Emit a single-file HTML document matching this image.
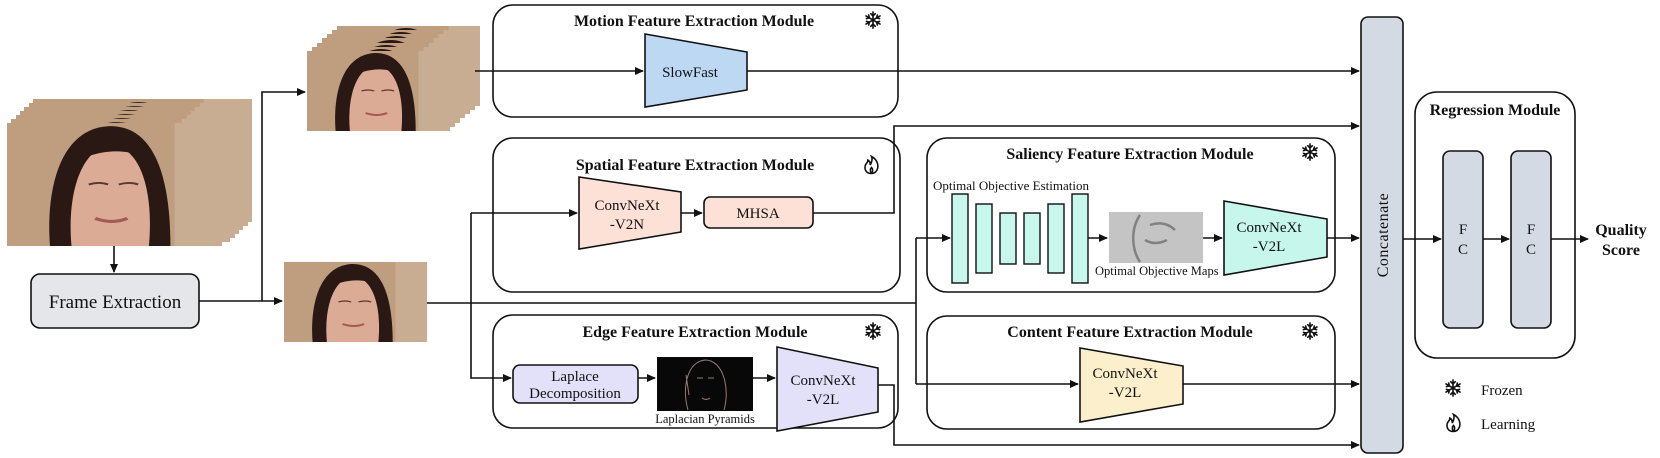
<!DOCTYPE html>
<html><head><meta charset="utf-8"><style>
html,body{margin:0;padding:0;background:#fff}
svg{display:block}
text{font-family:"Liberation Serif",serif;fill:#111}
.t{font-weight:bold;font-size:16px;text-anchor:middle}
.m{font-size:15px;text-anchor:middle}
.s{font-size:12.5px}
.ln{stroke:#111;stroke-width:1.6;fill:none}
.box{stroke:#111;stroke-width:1.6;fill:none}
</style></head><body>
<svg width="1660" height="458" viewBox="0 0 1660 458" xmlns="http://www.w3.org/2000/svg">
<defs>
<marker id="a" markerWidth="10" markerHeight="10" refX="8" refY="4" orient="auto" markerUnits="userSpaceOnUse"><path d="M0,0 L9,4 L0,8 z" fill="#111"/></marker>
<symbol id="face" viewBox="0 0 100 80" preserveAspectRatio="none">
<rect width="100" height="80" fill="#bf9e80"/>
<rect x="78" width="22" height="80" fill="#c9ad92"/>
<path d="M20,80 C18,45 24,3 48,2 C70,2 76,40 76,80 z" fill="#2a1814"/>
<path d="M30,80 C28,50 33,18 48,14 C64,16 68,50 66,80 z" fill="#dcab95"/>
<path d="M30,28 C36,10 58,8 66,24 C58,16 40,16 30,28z" fill="#2a1814"/>
<path d="M41,62 Q49,66 56,62" stroke="#a55a55" stroke-width="2" fill="none"/>
<path d="M38,40 q5,-2 9,0 M52,40 q5,-2 9,0" stroke="#5a3a30" stroke-width="1.2" fill="none"/>
</symbol>
<symbol id="snow" viewBox="-10 -10 20 20">
<g stroke="#111" stroke-width="1.8" fill="none" stroke-linecap="round">
<path d="M0,-9V9M-7.8,-4.5L7.8,4.5M-7.8,4.5L7.8,-4.5"/>
<path d="M-2.5,-7L0,-4.5L2.5,-7M-2.5,7L0,4.5L2.5,7M-7.3,-1.5L-4,-2.3L-4.8,-5.5M7.3,1.5L4,2.3L4.8,5.5M-7.3,1.5L-4,2.3L-4.8,5.5M7.3,-1.5L4,-2.3L4.8,-5.5"/>
</g></symbol>
<symbol id="fire" viewBox="0 0 14 16">
<path d="M7,15 C2,15 1,11 2,8 C3,6 4,6 4,4 C6,5 6,7 6,8 C7,6 8,3 7,1 C11,3 13,7 12,11 C11,14 9,15 7,15 z M7,15 C5.5,13 6,11 7,10 C8,11 8.5,13 7,15" stroke="#111" stroke-width="1.3" fill="none"/>
</symbol>
</defs>

<!-- big stack -->
<g>
<use href="#face" x="33" y="99" width="219" height="123"/>
<use href="#face" x="29" y="103" width="219" height="123"/>
<use href="#face" x="24" y="107" width="219" height="123"/>
<use href="#face" x="20" y="111" width="219" height="123"/>
<use href="#face" x="16" y="115" width="219" height="123"/>
<use href="#face" x="11" y="119" width="219" height="123"/>
<use href="#face" x="7" y="123" width="215" height="123"/>
</g>
<line class="ln" x1="114" y1="246" x2="114" y2="272" marker-end="url(#a)"/>
<rect x="31" y="274" width="168" height="54" rx="9" fill="#e5e6ea" stroke="#111" stroke-width="1.6"/>
<text x="115" y="308" style="font-size:19px;text-anchor:middle">Frame Extraction</text>

<!-- top stack -->
<g>
<use href="#face" x="337" y="26" width="143" height="80"/>
<use href="#face" x="332" y="30" width="143" height="80"/>
<use href="#face" x="327" y="34" width="143" height="80"/>
<use href="#face" x="322" y="38" width="143" height="80"/>
<use href="#face" x="317" y="43" width="143" height="80"/>
<use href="#face" x="312" y="47" width="143" height="80"/>
<use href="#face" x="307" y="51" width="143" height="80"/>
</g>
<use href="#face" x="284" y="262" width="143" height="80"/>

<path class="ln" d="M199,301 H282" marker-end="url(#a)"/>
<path class="ln" d="M262,301 V92 H305" marker-end="url(#a)"/>

<!-- motion -->
<rect class="box" x="493" y="5" width="405" height="112" rx="20"/>
<text class="t" x="694" y="26">Motion Feature Extraction Module</text>
<use href="#snow" x="864" y="11" width="18" height="18"/>
<polygon points="645,34 747,52 747,90 645,107" fill="#bcd8f3" stroke="#111" stroke-width="1.6"/>
<text class="m" x="690" y="77">SlowFast</text>
<path class="ln" d="M475,71 H643" marker-end="url(#a)"/>
<path class="ln" d="M747,71 H1359" marker-end="url(#a)"/>

<!-- spatial -->
<rect class="box" x="493" y="138" width="407" height="154" rx="20"/>
<text class="t" x="695" y="170">Spatial Feature Extraction Module</text>
<use href="#fire" x="863" y="155" width="17" height="20"/>
<polygon points="579,177 681,192 681,232 579,249" fill="#fde0d6" stroke="#111" stroke-width="1.6"/>
<text class="m" x="627" y="210">ConvNeXt</text>
<text class="m" x="627" y="229">-V2N</text>
<rect x="704" y="197" width="109" height="31" rx="6" fill="#fde0d6" stroke="#111" stroke-width="1.6"/>
<text class="m" x="758" y="218">MHSA</text>
<path class="ln" d="M681,213 H702" marker-end="url(#a)"/>
<path class="ln" d="M813,213 H894 V126 H1359" marker-end="url(#a)"/>
<path class="ln" d="M471,213 H577" marker-end="url(#a)"/>
<path class="ln" d="M471,213 V378 H511" marker-end="url(#a)"/>

<!-- main line -->
<path class="ln" d="M427,303 H916"/>
<path class="ln" d="M916,238 V384"/>
<path class="ln" d="M916,238 H950" marker-end="url(#a)"/>
<path class="ln" d="M916,384 H1078" marker-end="url(#a)"/>

<!-- edge -->
<rect class="box" x="493" y="315" width="405" height="113" rx="20"/>
<text class="t" x="695" y="337">Edge Feature Extraction Module</text>
<use href="#snow" x="864" y="322" width="18" height="18"/>
<rect x="513" y="365" width="125" height="38" rx="7" fill="#e3e1fa" stroke="#111" stroke-width="1.6"/>
<text class="m" x="575" y="381">Laplace</text>
<text class="m" x="575" y="398">Decomposition</text>
<path class="ln" d="M638,378 H655" marker-end="url(#a)"/>
<rect x="657" y="357" width="96" height="54" fill="#080808"/>
<path d="M688,410 C682,390 686,362 705,360 C724,360 730,390 724,410 M697,378 l6,0 M708,378 l6,0 M702,398 q4,3 8,0 M686,375 l3,20" stroke="#9a7a75" stroke-width="1" fill="none"/>
<text class="s" x="705" y="423" text-anchor="middle">Laplacian Pyramids</text>
<path class="ln" d="M753,378 H775" marker-end="url(#a)"/>
<polygon points="777,347 878,368 878,412 777,431" fill="#e3e1fa" stroke="#111" stroke-width="1.6"/>
<text class="m" x="823" y="385">ConvNeXt</text>
<text class="m" x="823" y="404">-V2L</text>
<path class="ln" d="M878,385 H894 V445 H1359" marker-end="url(#a)"/>

<!-- saliency -->
<rect class="box" x="927" y="138" width="408" height="154" rx="20"/>
<text class="t" x="1130" y="159">Saliency Feature Extraction Module</text>
<use href="#snow" x="1301" y="143" width="18" height="18"/>
<text x="933" y="190" style="font-size:13px">Optimal Objective Estimation</text>
<g fill="#c6f6ec" stroke="#111" stroke-width="1.4">
<rect x="952" y="194" width="16" height="89"/>
<rect x="976" y="204" width="16" height="69"/>
<rect x="1000" y="213" width="16" height="51"/>
<rect x="1024" y="213" width="16" height="51"/>
<rect x="1048" y="204" width="16" height="69"/>
<rect x="1072" y="194" width="16" height="89"/>
</g>
<path class="ln" d="M1088,238 H1107" marker-end="url(#a)"/>
<rect x="1109" y="212" width="94" height="51" fill="#c4c4c4"/>
<path d="M1140,215 C1130,230 1132,250 1140,262 M1150,225 q15,-5 25,5 M1145,240 q10,6 22,0" stroke="#555" stroke-width="2.5" fill="none" opacity="0.6"/>
<text class="s" x="1095" y="275">Optimal Objective Maps</text>
<path class="ln" d="M1203,238 H1222" marker-end="url(#a)"/>
<polygon points="1224,201 1327,219 1327,257 1224,275" fill="#c6f6ec" stroke="#111" stroke-width="1.6"/>
<text class="m" x="1269" y="232">ConvNeXt</text>
<text class="m" x="1269" y="251">-V2L</text>
<path class="ln" d="M1327,238 H1359" marker-end="url(#a)"/>

<!-- content -->
<rect class="box" x="927" y="316" width="408" height="113" rx="20"/>
<text class="t" x="1130" y="337">Content Feature Extraction Module</text>
<use href="#snow" x="1301" y="322" width="18" height="18"/>
<polygon points="1080,348 1183,366 1183,404 1080,422" fill="#fcefcb" stroke="#111" stroke-width="1.6"/>
<text class="m" x="1125" y="378">ConvNeXt</text>
<text class="m" x="1125" y="397">-V2L</text>
<path class="ln" d="M1183,384 H1359" marker-end="url(#a)"/>

<!-- concat -->
<rect x="1361" y="17" width="42" height="436" rx="7" fill="#d4dae3" stroke="#111" stroke-width="1.6"/>
<text x="1388" y="235" transform="rotate(-90 1388 235)" style="font-size:16px;text-anchor:middle;letter-spacing:0.5px">Concatenate</text>
<path class="ln" d="M1403,239 H1441" marker-end="url(#a)"/>

<!-- regression -->
<rect class="box" x="1415" y="92" width="160" height="266" rx="22"/>
<text class="t" x="1495" y="115">Regression Module</text>
<rect x="1443" y="151" width="40" height="177" rx="7" fill="#d4dae3" stroke="#111" stroke-width="1.6"/>
<rect x="1511" y="151" width="40" height="177" rx="7" fill="#d4dae3" stroke="#111" stroke-width="1.6"/>
<text class="m" x="1463" y="234">F</text><text class="m" x="1463" y="254">C</text>
<text class="m" x="1531" y="234">F</text><text class="m" x="1531" y="254">C</text>
<path class="ln" d="M1483,239 H1509" marker-end="url(#a)"/>
<path class="ln" d="M1551,239 H1588" marker-end="url(#a)"/>
<text class="t" x="1621" y="235">Quality</text>
<text class="t" x="1621" y="255">Score</text>

<!-- legend -->
<use href="#snow" x="1444" y="379" width="18" height="18"/>
<text x="1481" y="395" style="font-size:15px">Frozen</text>
<use href="#fire" x="1445" y="413" width="17" height="20"/>
<text x="1481" y="429" style="font-size:15px">Learning</text>
</svg>
</body></html>
